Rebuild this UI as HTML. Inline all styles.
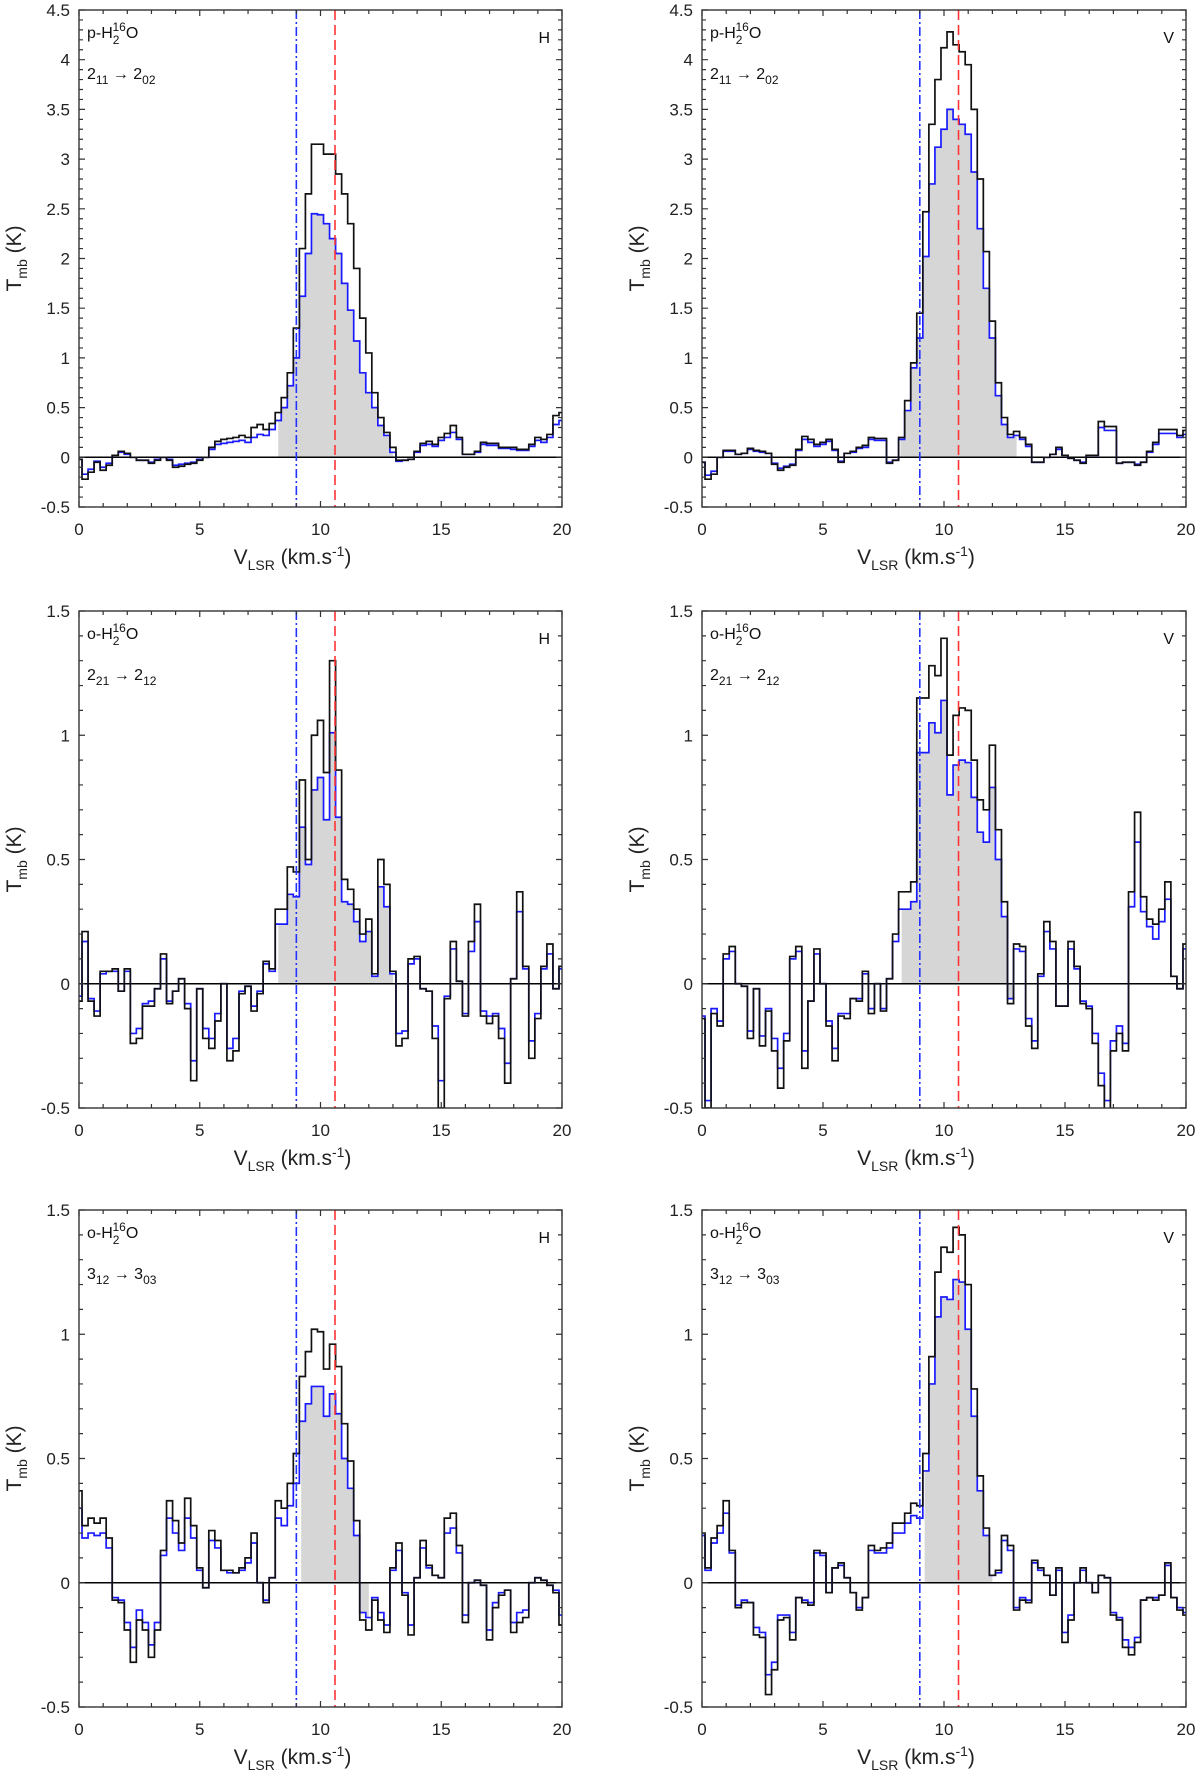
<!DOCTYPE html>
<html><head><meta charset="utf-8"><style>
html,body{margin:0;padding:0;background:#fff;}
svg{display:block;font-family:"Liberation Sans",Arial,sans-serif;}
</style></head><body>
<svg id="fig" width="1200" height="1778" viewBox="0 0 1200 1778" xmlns="http://www.w3.org/2000/svg"></svg>
<script>
const black1=[-0.02,-0.22,-0.15,-0.05,-0.13,-0.08,0.02,0.06,0.04,0,-0.03,-0.03,-0.06,-0.03,0,-0.03,-0.1,-0.09,-0.07,-0.06,-0.03,0,0.1,0.16,0.18,0.19,0.2,0.22,0.2,0.3,0.33,0.28,0.34,0.45,0.6,0.85,1.3,2.1,2.65,3.15,3.15,3.05,3.05,2.85,2.65,2.35,1.9,1.4,1.05,0.65,0.4,0.25,0.1,-0.03,-0.03,-0.02,0.06,0.14,0.16,0.13,0.2,0.24,0.32,0.2,0.03,0.03,0.06,0.15,0.14,0.14,0.1,0.1,0.1,0.08,0.08,0.13,0.2,0.18,0.23,0.42,0.45];
const blue1=[-0.02,-0.17,-0.12,-0.04,-0.1,-0.06,0.02,0.05,0.03,0,-0.03,-0.03,-0.05,-0.02,0,-0.02,-0.08,-0.07,-0.06,-0.05,-0.02,0,0.08,0.13,0.14,0.15,0.16,0.17,0.15,0.2,0.23,0.22,0.28,0.37,0.5,0.72,1.0,1.62,2.05,2.45,2.44,2.35,2.2,2.05,1.75,1.48,1.17,0.85,0.65,0.5,0.32,0.22,0.05,-0.04,-0.03,-0.02,0.05,0.12,0.13,0.11,0.17,0.2,0.25,0.18,0.03,0.03,0.05,0.13,0.12,0.12,0.09,0.09,0.08,0.07,0.07,0.11,0.17,0.15,0.2,0.33,0.37];
const black2=[-0.05,-0.22,-0.17,0.0,0.07,0.07,0.03,0.04,0.09,0.07,0.06,0.04,-0.07,-0.13,-0.1,-0.08,0.08,0.21,0.18,0.13,0.15,0.18,0.08,-0.05,0.04,0.06,0.1,0.12,0.2,0.19,0.19,-0.06,-0.03,0.2,0.57,0.95,1.45,2.47,3.35,3.8,4.12,4.28,4.15,4.08,3.95,3.5,2.8,2.07,1.37,0.75,0.4,0.23,0.26,0.2,0.13,-0.05,-0.05,0.0,0.03,0.1,0.02,-0.01,-0.03,-0.06,0.02,0.02,0.36,0.31,0.31,-0.06,-0.05,-0.05,-0.08,-0.05,0.06,0.15,0.28,0.28,0.28,0.22,0.27];
const blue2=[-0.05,-0.18,-0.14,0.0,0.06,0.06,0.03,0.04,0.08,0.06,0.05,0.04,-0.06,-0.11,-0.09,-0.07,0.07,0.18,0.15,0.11,0.13,0.16,0.07,-0.04,0.04,0.05,0.09,0.1,0.18,0.17,0.17,-0.05,-0.03,0.18,0.47,0.9,1.2,2.02,2.75,3.12,3.3,3.5,3.4,3.35,3.25,2.87,2.3,1.7,1.2,0.62,0.33,0.2,0.22,0.18,0.11,-0.05,-0.05,0.0,0.03,0.08,0.02,-0.01,-0.03,-0.05,0.02,0.02,0.3,0.27,0.27,-0.06,-0.05,-0.05,-0.07,-0.05,0.05,0.13,0.24,0.24,0.24,0.2,0.23];
const black3=[-0.07,0.21,-0.07,-0.13,0.05,0.05,0.06,-0.03,0.06,-0.24,-0.22,-0.09,-0.09,-0.02,0.12,-0.08,-0.03,0.02,-0.1,-0.39,-0.02,-0.22,-0.26,-0.15,0.0,-0.31,-0.27,-0.04,-0.01,-0.11,-0.04,0.09,0.06,0.3,0.3,0.47,0.45,0.82,0.5,1.0,1.06,0.85,1.3,0.86,0.42,0.38,0.3,0.2,0.26,0.04,0.5,0.4,0.05,-0.25,-0.22,0.1,0.11,-0.02,-0.03,-0.22,-0.5,-0.06,0.17,0.01,-0.13,0.17,0.32,-0.13,-0.16,-0.13,-0.22,-0.4,0.02,0.37,0.07,-0.3,-0.14,0.07,0.16,-0.02,0.07];
const blue3=[-0.05,0.17,-0.06,-0.11,0.04,0.05,0.05,-0.03,0.05,-0.2,-0.18,-0.08,-0.07,-0.02,0.1,-0.07,-0.03,0.02,-0.08,-0.31,-0.02,-0.18,-0.22,-0.12,0.0,-0.26,-0.22,-0.03,-0.01,-0.09,-0.03,0.08,0.05,0.24,0.24,0.36,0.35,0.63,0.48,0.78,0.83,0.66,1.01,0.67,0.33,0.32,0.25,0.17,0.21,0.03,0.39,0.31,0.04,-0.2,-0.19,0.08,0.1,-0.02,-0.03,-0.17,-0.39,-0.05,0.14,0.01,-0.12,0.13,0.25,-0.11,-0.13,-0.12,-0.18,-0.32,0.02,0.29,0.06,-0.23,-0.12,0.06,0.12,-0.02,0.06];
const black4=[-0.14,-0.5,-0.12,-0.17,0.12,0.15,0.0,-0.01,-0.22,-0.02,-0.25,-0.11,-0.27,-0.42,-0.23,0.11,0.15,-0.34,-0.07,0.14,0.0,-0.17,-0.31,-0.13,-0.14,-0.06,-0.07,0.05,-0.12,0.0,-0.11,0.02,0.2,0.37,0.37,0.41,1.15,1.15,1.28,1.24,1.39,0.92,1.08,1.11,1.1,0.9,0.74,0.7,0.96,0.62,0.33,-0.08,0.16,0.15,-0.17,-0.26,0.04,0.25,0.17,-0.09,-0.09,0.17,0.07,-0.08,-0.1,-0.24,-0.41,-0.55,-0.27,-0.2,-0.27,0.37,0.69,0.35,0.26,0.24,0.3,0.41,0.03,-0.02,0.16];
const blue4=[-0.13,-0.47,-0.1,-0.15,0.1,0.13,0.0,-0.01,-0.19,-0.02,-0.21,-0.1,-0.22,-0.34,-0.2,0.1,0.13,-0.27,-0.07,0.12,0.0,-0.15,-0.26,-0.12,-0.12,-0.06,-0.06,0.04,-0.1,0.0,-0.1,0.02,0.17,0.3,0.3,0.33,0.93,0.93,1.05,1.01,1.14,0.76,0.88,0.9,0.89,0.75,0.61,0.57,0.79,0.5,0.27,-0.06,0.14,0.13,-0.14,-0.23,0.03,0.21,0.14,-0.09,-0.09,0.14,0.06,-0.07,-0.09,-0.2,-0.36,-0.47,-0.23,-0.17,-0.24,0.31,0.57,0.29,0.23,0.18,0.25,0.34,0.03,-0.02,0.14];
const black5=[0.37,0.23,0.26,0.24,0.26,0.18,-0.07,-0.08,-0.19,-0.32,-0.15,-0.19,-0.3,-0.19,0.13,0.33,0.25,0.16,0.34,0.23,0.06,-0.02,0.21,0.17,0.05,0.05,0.04,0.06,0.1,0.2,0.0,-0.08,0.02,0.33,0.3,0.4,0.52,0.83,0.93,1.02,1.01,0.86,0.96,0.87,0.64,0.49,0.25,-0.15,-0.19,-0.07,-0.15,-0.2,0.06,0.16,-0.05,-0.21,0.02,0.17,0.07,0.03,0.02,0.26,0.28,0.15,-0.16,0.0,0.01,-0.01,-0.23,-0.1,-0.05,-0.03,-0.2,-0.16,-0.14,0.0,0.02,0.01,-0.01,-0.04,-0.17];
const blue5=[0.3,0.18,0.2,0.19,0.2,0.14,-0.06,-0.07,-0.16,-0.26,-0.11,-0.16,-0.25,-0.16,0.11,0.26,0.2,0.13,0.26,0.18,0.05,-0.02,0.17,0.14,0.05,0.04,0.04,0.05,0.08,0.16,0.0,-0.07,0.02,0.26,0.23,0.31,0.4,0.65,0.72,0.79,0.79,0.67,0.76,0.68,0.5,0.38,0.19,-0.12,-0.14,-0.06,-0.12,-0.17,0.05,0.13,-0.04,-0.17,0.02,0.14,0.06,0.03,0.02,0.2,0.22,0.12,-0.13,0.0,0.01,-0.01,-0.19,-0.08,-0.04,-0.03,-0.16,-0.12,-0.11,0.0,0.02,0.01,-0.01,-0.03,-0.13];
const black6=[0.2,0.06,0.18,0.23,0.33,0.13,-0.1,-0.08,-0.08,-0.21,-0.22,-0.45,-0.35,-0.15,-0.14,-0.23,-0.06,-0.08,-0.09,0.13,0.12,-0.04,0.06,0.08,0.02,-0.04,-0.11,-0.06,0.15,0.13,0.14,0.16,0.24,0.24,0.28,0.32,0.31,0.52,0.91,1.25,1.35,1.33,1.43,1.4,1.2,0.78,0.43,0.22,0.03,0.05,0.19,0.15,-0.11,-0.07,-0.08,0.09,0.06,0.03,-0.05,0.06,-0.24,-0.15,0.0,0.06,0.0,-0.04,0.03,0.02,-0.13,-0.15,-0.26,-0.29,-0.24,-0.07,-0.06,-0.07,-0.05,0.08,-0.06,-0.11,-0.13];
const blue6=[0.19,0.05,0.16,0.2,0.28,0.12,-0.09,-0.07,-0.08,-0.18,-0.2,-0.37,-0.32,-0.13,-0.13,-0.2,-0.06,-0.07,-0.08,0.12,0.11,-0.04,0.06,0.07,0.02,-0.04,-0.1,-0.06,0.13,0.12,0.12,0.14,0.2,0.2,0.24,0.27,0.26,0.45,0.8,1.07,1.15,1.14,1.22,1.21,1.02,0.67,0.37,0.19,0.03,0.04,0.17,0.13,-0.1,-0.06,-0.07,0.08,0.05,0.03,-0.05,0.05,-0.2,-0.13,0.0,0.05,0.0,-0.04,0.03,0.02,-0.12,-0.14,-0.23,-0.26,-0.22,-0.07,-0.06,-0.06,-0.05,0.07,-0.06,-0.1,-0.12];
const xTicks=[0,5,10,15,20];
const yTicksTop=[-0.5,0,0.5,1,1.5,2,2.5,3,3.5,4,4.5];
const yTicksLow=[-0.5,0,0.5,1,1.5];
const fillRanges=[[8.25,13.0],[8.2,13.0],[8.25,13.0],[8.25,12.85],[9.2,12.0],[9.2,12.0]];
const vBlue=9.0, vRed=10.6;
const species=["p","p","o","o","o","o"];
const transUp=["11","11","21","21","12","12"], transLo=["02","02","12","12","03","03"];
const transN=["2","2","2","2","3","3"], pol=["H","V","H","V","H","V"];

const NS="http://www.w3.org/2000/svg";
const svg=document.getElementById('fig');
function mk(tag,attrs,parent){const e=document.createElementNS(NS,tag);for(const k in attrs)e.setAttribute(k,attrs[k]);(parent||svg).appendChild(e);return e;}
const cols=[[79,562],[702,1186]], rows=[[10,507],[611,1108],[1210,1707]];
const blacks=[black1,black2,black3,black4,black5,black6], blues=[blue1,blue2,blue3,blue4,blue5,blue6];
function edge(i,n){if(i<=0)return 0;if(i>=n)return 20;return 0.125+(i-1)*0.25;}

for(let p=0;p<6;p++){
  const [x0,x1]=cols[p%2], [y0,y1]=rows[Math.floor(p/2)];
  const ymin=-0.5, ymax=p<2?4.5:1.5;
  const X=v=>x0+(v/20)*(x1-x0), Y=t=>y1-(t-ymin)/(ymax-ymin)*(y1-y0);
  const g=mk('g',{});
  
  
  const clip=mk('clipPath',{id:'c'+p},g); mk('rect',{x:x0,y:y0,width:x1-x0,height:y1-y0},clip);
  const bl=blacks[p], bu=blues[p], n=bl.length;
  // fill
  const [f0,f1]=fillRanges[p];
  let d='M'+X(f0)+','+Y(0);
  for(let i=0;i<n;i++){const a=Math.max(edge(i,n),f0), b=Math.min(edge(i+1,n),f1); if(b<=a)continue; d+=' L'+X(a)+','+Y(bu[i])+' L'+X(b)+','+Y(bu[i]);}
  d+=' L'+X(f1)+','+Y(0)+' Z';
  const fill=mk('path',{d:d,fill:'#d6d6d6',stroke:'none'},g);
  
  
  const zl=mk('line',{x1:x0,x2:x1,y1:Y(0),y2:Y(0),stroke:'#000','stroke-width':1.5},g);
  
  
  function stepPath(arr){let s='';for(let i=0;i<n;i++){s+=(i?' L':'M')+X(edge(i,n))+','+Y(arr[i])+' L'+X(edge(i+1,n))+','+Y(arr[i]);}return s;}
  const pb=mk('path',{d:stepPath(bu),fill:'none',stroke:'#1a1aff','stroke-width':1.7,'clip-path':'url(#c'+p+')'},g);
  
  
  const pk=mk('path',{d:stepPath(bl),fill:'none',stroke:'#111','stroke-width':1.7,'clip-path':'url(#c'+p+')'},g);
  
  
  const lb=mk('line',{x1:X(vBlue),x2:X(vBlue),y1:y0,y2:y1,stroke:'#2233ff','stroke-width':1.6,'stroke-dasharray':'9,3,2,3'},g);
  
  
  const lr=mk('line',{x1:X(vRed),x2:X(vRed),y1:y0,y2:y1,stroke:'#ff3333','stroke-width':1.6,'stroke-dasharray':'10,5'},g);
  
  
  const box=mk('rect',{x:x0,y:y0,width:x1-x0,height:y1-y0,fill:'none',stroke:'#333','stroke-width':1.4},g);
  
  
  // ticks
  let td='';
  for(let v=0;v<=20;v++){const len=v%5===0?6:4;td+='M'+X(v)+','+y1+' v'+(-len)+' M'+X(v)+','+y0+' v'+len+' ';}
  for(let k=Math.round(ymin*10);k<=Math.round(ymax*10);k++){const t=k/10,len=k%5===0?6:4;td+='M'+x0+','+Y(t)+' h'+len+' M'+x1+','+Y(t)+' h'+(-len)+' ';}
  const tk=mk('path',{d:td,stroke:'#333','stroke-width':1.2,fill:'none'},g);
  
  
  for(const v of xTicks){const t=mk('text',{x:X(v),y:y1+28,'font-size':17,fill:'#222','text-anchor':'middle'},g);t.textContent=String(v);
    
    }
  for(const v of (p<2?yTicksTop:yTicksLow)){const t=mk('text',{x:x0-9,y:Y(v)+6,'font-size':17,fill:'#222','text-anchor':'end'},g);t.textContent=String(v);
    
    }
  // x label
  const xl=mk('text',{x:(x0+x1)/2-28,y:y1+57,'font-size':21,fill:'#222','text-anchor':'middle'},g);
  xl.innerHTML='V<tspan font-size="14" dy="6">LSR</tspan><tspan dy="-6"> (km.s</tspan><tspan font-size="14" dy="-8">-1</tspan><tspan dy="8">)</tspan>';
  
  
  const yc=(y0+y1)/2, yx=x0-58;
  const yl=mk('text',{x:0,y:0,'font-size':21,fill:'#222','text-anchor':'middle',transform:'translate('+yx+','+yc+') rotate(-90)'},g);
  yl.innerHTML='T<tspan font-size="14" dy="6">mb</tspan><tspan dy="-6"> (K)</tspan>';
  
  
  const sp=mk('text',{x:x0+8,y:y0+28,'font-size':16,fill:'#111'},g);
  sp.innerHTML=species[p]+'-H<tspan font-size="12" dy="6">2</tspan><tspan font-size="12" dx="-7" dy="-13">16</tspan><tspan dy="7">O</tspan>';
  
  
  const tr=mk('text',{x:x0+8,y:y0+69,'font-size':16,fill:'#111'},g);
  tr.innerHTML=transN[p]+'<tspan font-size="12" dy="5">'+transUp[p]+'</tspan><tspan dy="-5"> \u2192 '+transN[p]+'</tspan><tspan font-size="12" dy="5">'+transLo[p]+'</tspan>';
  
  
  const pl=mk('text',{x:x1-12,y:y0+33,'font-size':16,fill:'#111','text-anchor':'end'},g);
  pl.textContent=pol[p];
  
  
}
</script>
</body></html>
